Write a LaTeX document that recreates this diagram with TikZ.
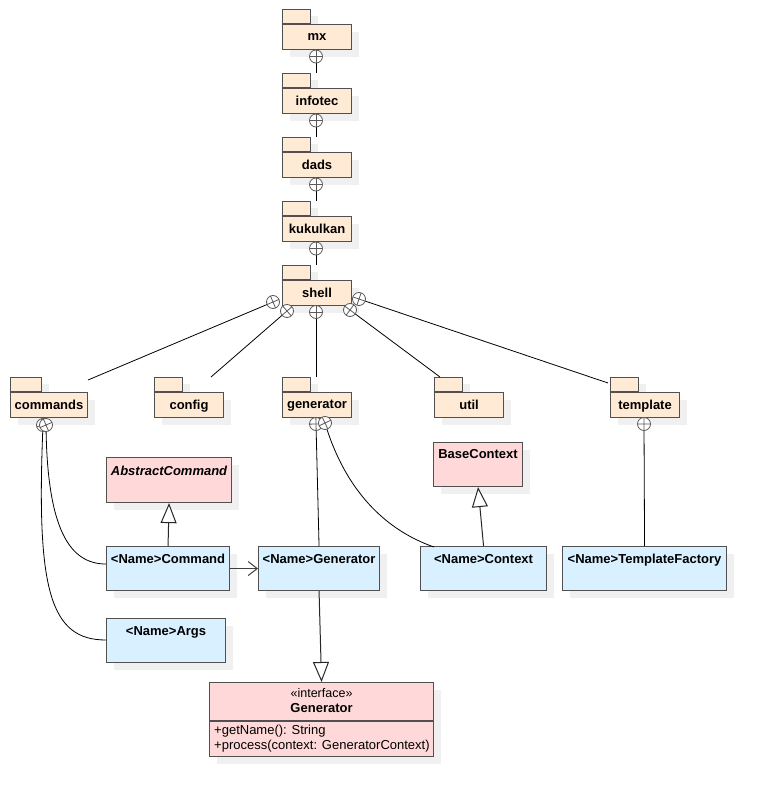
\documentclass[tikz,border=0pt]{standalone}
\usepackage{fontspec}
\setmainfont{Liberation Sans}
\usetikzlibrary{arrows.meta,shadows,calc}

\definecolor{pkgfill}{RGB}{255,234,214}
\definecolor{clsblue}{RGB}{216,240,255}
\definecolor{clspink}{RGB}{255,217,217}
\definecolor{bordc}{RGB}{80,80,80}
\definecolor{nestc}{RGB}{90,90,90}

\tikzset{
  shd/.style={drop shadow={shadow xshift=7pt,shadow yshift=-7pt,fill=black!6,opacity=1}},
  pkgbody/.style={draw=bordc,line width=1.1pt,fill=pkgfill,shd,minimum height=25pt,
    inner sep=0pt,anchor=north west,font=\fontsize{13}{15}\selectfont\bfseries},
  pkgtab/.style={draw=bordc,line width=1.1pt,fill=pkgfill,shd,minimum height=14pt,
    inner sep=0pt,anchor=south west},
  cls/.style={draw=bordc,line width=1.1pt,shd,inner sep=0pt,anchor=north west,minimum height=44pt},
  clsname/.style={anchor=base,inner sep=0pt,font=\fontsize{13}{15}\selectfont\bfseries},
  member/.style={anchor=base west,inner sep=0pt,font=\fontsize{13}{15}\selectfont},
  conn/.style={draw=black,line width=0.8pt},
  nestline/.style={draw=nestc,line width=0.8pt},
  inherit/.style={draw=black!85,line width=1pt,-{Triangle[open,length=20pt,width=16pt,fill=white]}},
  depend/.style={draw=black!75,line width=1pt,-{Straight Barb[length=9pt,width=14pt]}},
}

\newcommand\pkgnode[6]{% name, x, ytop body, body width, tab width, label
  \node[pkgtab,minimum width=#5pt] (#1tab) at (#2,#3) {};
  \node[pkgbody,minimum width=#4pt,text depth=1pt] (#1) at (#2,#3) {#6};
}
\newcommand\nestsym[2]{% circle coordinate, direction coordinate
  \draw[nestline,fill=white] (#1) circle[radius=6.5];
  \draw[nestline] ($(#1)!6.5pt!(#2)$) -- ($(#1)!-6.5pt!(#2)$);
  \draw[nestline] ($(#1)!6.5pt!90:(#2)$) -- ($(#1)!6.5pt!-90:(#2)$);
}

\begin{document}
\begin{tikzpicture}[x=1pt,y=-1pt]
\useasboundingbox (0,0) rectangle (765,797);

% ---------- packages ----------
\pkgnode{mx}{282}{24}{69}{28}{mx}
\pkgnode{infotec}{282}{88}{69}{28}{infotec}
\pkgnode{dads}{282}{152}{69}{28}{dads}
\pkgnode{kukulkan}{282}{216}{69}{28}{kukulkan}
\pkgnode{shell}{282}{280}{69}{28}{shell}
\pkgnode{commands}{10}{392}{77}{31}{commands}
\pkgnode{config}{154}{392}{69}{28}{config}
\pkgnode{generator}{282}{392}{69}{28}{generator}
\pkgnode{util}{434}{392}{69}{28}{util}
\pkgnode{template}{610}{392}{69}{28}{template}

% ---------- classes ----------
\node[cls,fill=clspink,minimum width=125pt,minimum height=45pt] (abs) at (106,457) {};
\node[clsname,font=\fontsize{13}{15}\selectfont\bfseries\itshape] (abst) at ($(abs.north)+(0,18)$) {AbstractCommand};

\node[cls,fill=clspink,minimum width=89pt] (base) at (433,442) {};
\node[clsname] (baset) at ($(base.north)+(0,16)$) {BaseContext};

\node[cls,fill=clsblue,minimum width=123pt] (cmd) at (106,546) {};
\node[clsname] (cmdt) at ($(cmd.north)+(0,17)$) {<Name>Command};

\node[cls,fill=clsblue,minimum width=121pt] (gen) at (258,546) {};
\node[clsname] (gent) at ($(gen.north)+(0,17)$) {<Name>Generator};

\node[cls,fill=clsblue,minimum width=126pt] (ctx) at (420,546) {};
\node[clsname] (ctxt) at ($(ctx.north)+(0,17)$) {<Name>Context};

\node[cls,fill=clsblue,minimum width=164pt] (tf) at (562,546) {};
\node[clsname] (tft) at ($(tf.north)+(0,17)$) {<Name>TemplateFactory};

\node[cls,fill=clsblue,minimum width=119pt] (args) at (106,618) {};
\node[clsname] (argst) at ($(args.north)+(0,17)$) {<Name>Args};

\node[cls,fill=clspink,minimum width=224pt,minimum height=74pt] (iface) at (209,682) {};
\draw[draw=bordc,line width=1.1pt] (209,721) -- (433,721);
\node[clsname,font=\fontsize{12.5}{14}\selectfont] (ifst) at ($(iface.north)+(0,15)$) {«interface»};
\node[clsname] (ifnm) at ($(iface.north)+(0,30)$) {Generator};
\node[member] (m1) at (214,734) {+getName(): String};
\node[member] (m2) at (214,749) {+process(context: GeneratorContext)};

% ---------- nesting coordinates ----------
\coordinate (n1) at (316,56.5);  \coordinate (t1) at (316,73);
\coordinate (n2) at (316,120.5); \coordinate (t2) at (316,137);
\coordinate (n3) at (316,184.5); \coordinate (t3) at (316,201);
\coordinate (n4) at (316,248.5); \coordinate (t4) at (316,265);
\coordinate (s1) at (273,302);   \coordinate (u1) at (88,380);
\coordinate (s2) at (287,311);   \coordinate (u2) at (211,377);
\coordinate (s3) at (316,312);   \coordinate (u3) at (316,377);
\coordinate (s4) at (350,310);   \coordinate (u4) at (440,377);
\coordinate (s5) at (359,299);   \coordinate (u5) at (608,383);
\coordinate (ca) at (46,425);    \coordinate (cb) at (43,425);
\coordinate (ga) at (316,424);   \coordinate (gb) at (325,423);
\coordinate (gbdir) at (334,442);
\coordinate (ta) at (644,424);
\coordinate (cmdend) at (106,564);
\coordinate (argsend) at (106,640);
\coordinate (ctxend) at (434,547);

% ---------- connectors ----------
\draw[conn] (n1) -- (t1);
\draw[conn] (n2) -- (t2);
\draw[conn] (n3) -- (t3);
\draw[conn] (n4) -- (t4);
\draw[conn] (s1) -- (u1);
\draw[conn] (s2) -- (u2);
\draw[conn] (s3) -- (u3);
\draw[conn] (s4) -- (u4);
\draw[conn] (s5) -- (u5);
\draw[conn] (ca) .. controls (47,530) and (70,564) .. (cmdend);
\draw[conn] (cb) .. controls (36,590) and (50,640) .. (argsend);
\draw[conn] (ga) -- (gen.north);
\draw[conn] (gb) .. controls (345,490) and (385,530) .. (ctxend);
\draw[conn] (ta) -- (tf.north);

\nestsym{n1}{t1}
\nestsym{n2}{t2}
\nestsym{n3}{t3}
\nestsym{n4}{t4}
\nestsym{s1}{u1}
\nestsym{s2}{u2}
\nestsym{s3}{u3}
\nestsym{s4}{u4}
\nestsym{s5}{u5}
\nestsym{cb}{argsend}
\nestsym{ca}{cmdend}
\nestsym{ga}{gen.north}
\nestsym{gb}{gbdir}
\nestsym{ta}{tf.north}

% ---------- class relations ----------
\draw[inherit] (cmd.north) -- (abs.south);
\draw[inherit] (ctx.north) -- (base.south);
\draw[inherit] (gen.south) -- (iface.north);
\draw[depend] (cmd.east) -- (gen.west);
\end{tikzpicture}
\end{document}
